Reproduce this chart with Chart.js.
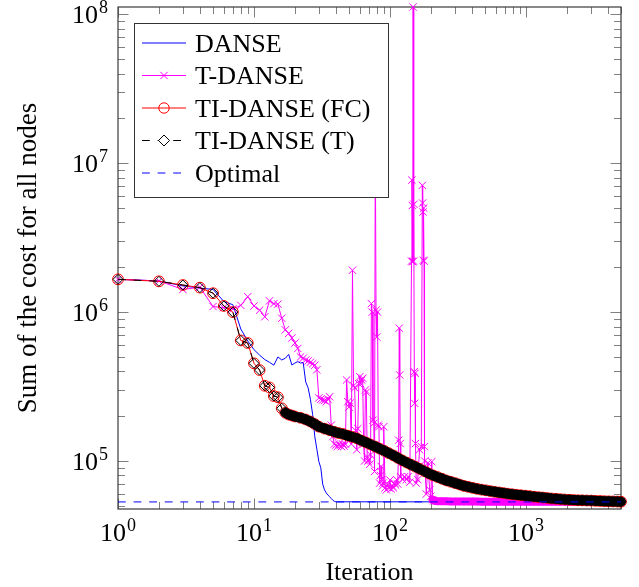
<!DOCTYPE html>
<html>
<head>
<meta charset="utf-8">
<script src="https://cdn.jsdelivr.net/npm/chart.js@4.4.1/dist/chart.umd.min.js"></script>
<style>
  html, body { margin: 0; padding: 0; background: #fff; }
  #wrap { width: 639px; height: 587px; }
</style>
</head>
<body>
<div id="wrap"><canvas id="costChart" width="639" height="587"></canvas></div>
<script>
// ---- data ----
const danseIter = [1, 2, 3, 4, 5, 6, 7, 8, 9, 10, 11, 12, 13, 14, 15, 16, 17, 18, 19, 20,
  21, 22, 23, 24, 25, 26, 27, 28, 29, 30, 31, 32, 33, 34, 35, 36, 37, 38, 39, 40, 5000];
const danseCost = [1.66e6, 1.62e6, 1.50e6, 1.45e6, 1.42e6, 1.18e6, 1.12e6, 7.7e5, 6.4e5, 5.6e5,
  5.14e5, 4.8e5, 4.6e5, 4.4e5, 5.0e5, 4.77e5, 4.9e5, 5.2e5, 4.41e5, 4.55e5,
  4.65e5, 4.55e5, 4.6e5, 3.4e5, 3.1e5, 2.6e5, 2.05e5, 1.46e5, 1.2e5, 9.9e4,
  9.0e4, 7.0e4, 6.4e4, 6.1e4, 5.9e4, 5.76e4, 5.6e4, 5.45e4, 5.36e4, 5.32e4, 5.31e4];

// iterations shared by the converged part of T-DANSE and TI-DANSE
const tailIter = [224, 241, 260, 280, 302, 325, 350, 377, 406, 437,
  471, 507, 546, 588, 633, 682, 735, 792, 853, 919,
  990, 1066, 1148, 1237, 1332, 1435, 1546, 1665, 1793, 1931,
  2080, 2240, 2413, 2599, 2800, 3016, 3248, 3499, 3768, 4059,
  4372, 4709, 5000];

const tdanseHeadIter = [1, 2, 3, 4, 5, 6, 7, 8, 9, 10, 11, 12, 13, 14, 15, 16, 17, 18, 19, 20,
  21, 22, 23, 24, 25, 26, 27, 28, 29, 30, 31, 32, 33, 34, 35, 36, 37, 38, 39, 40,
  41, 42, 43, 44, 45, 46, 47, 48, 49, 50, 51, 52, 53, 54, 55, 56, 57, 58, 59, 60,
  61, 62, 63, 64, 65, 66, 67, 68, 69, 70, 71, 72, 73, 74, 75, 76, 77, 78, 79, 80,
  81, 82, 83, 84, 85, 86, 87, 88, 89, 90, 92, 94, 96, 98, 100, 102, 104, 106, 108, 110,
  112, 114, 116, 117, 118, 119, 120, 124, 128, 132, 136, 140, 144, 145, 146, 147, 148, 149, 150, 151,
  152, 153, 154, 156, 160, 165, 170, 173, 174, 175, 176, 177, 178, 179, 180, 185, 190, 196, 200, 203,
  206, 210];
const tdanseHeadCost = [1.66e6, 1.62e6, 1.42e6, 1.47e6, 1.09e6, 1.07e6, 1.05e6, 1.11e6, 1.27e6, 1.10e6,
  1.03e6, 9.3e5, 1.19e6, 1.14e6, 1.13e6, 9.1e5, 7.6e5, 7.2e5, 6.7e5, 6.2e5,
  5.7e5, 5.0e5, 4.9e5, 4.76e5, 4.7e5, 4.6e5, 4.5e5, 4.4e5, 4.1e5, 2.65e5,
  2.6e5, 2.57e5, 2.55e5, 2.5e5, 2.6e5, 2.7e5, 1.74e5, 1.46e5, 1.3e5, 1.28e5,
  1.25e5, 1.3e5, 1.27e5, 1.25e5, 1.3e5, 1.26e5, 1.3e5, 3.5e5, 2.5e5, 2.3e5,
  2.45e5, 1.3e5, 1.91e6, 3.2e5, 3.1e5, 1.6e5, 1.19e5, 1.65e5, 3.3e5, 3.68e5,
  3.3e5, 3.5e5, 3.6e5, 1.3e5, 1.0e5, 3.0e5, 2.9e5, 1.07e5, 1.0e5, 1.02e5,
  9.5e4, 1.1e5, 1.14e6, 1.0e6, 1.88e5, 1.79e5, 8.5e4, 1.5e7, 1.03e6, 6.8e5,
  1.0e6, 1.74e5, 1.70e5, 7.1e4, 8.0e4, 9.2e4, 7.5e4, 6.8e4, 7.1e4, 1.7e5,
  6.6e4, 6.4e4, 7.0e4, 6.6e4, 7.45e4, 6.5e4, 6.8e4, 6.6e4, 7.1e4, 6.9e4,
  7.5e4, 7.0e4, 1.38e5, 7.8e5, 3.78e5, 1.31e5, 7.85e4, 7.5e4, 7.85e4, 7.5e4,
  7.85e4, 7.2e4, 2.2e6, 7.7e6, 5.2e6, 2.18e6, 1.12e8, 2.2e6, 5.3e6, 3.98e5,
  2.44e5, 3.88e5, 1.31e5, 7.1e4, 7.5e4, 1.19e5, 1.25e5, 7.1e6, 5.4e6, 4.7e6,
  2.23e6, 5.0e6, 2.2e6, 1.25e5, 1.0e5, 6.0e4, 9.7e4, 6.4e4, 5.8e4, 9.9e4,
  5.5e4, 5.4e4];
const tdanseTailCost = [5.37e4, 5.36e4, 5.36e4, 5.35e4, 5.35e4, 5.35e4, 5.34e4, 5.34e4, 5.34e4, 5.34e4,
  5.33e4, 5.33e4, 5.33e4, 5.33e4, 5.33e4, 5.33e4, 5.33e4, 5.33e4, 5.33e4, 5.33e4,
  5.33e4, 5.32e4, 5.32e4, 5.32e4, 5.32e4, 5.32e4, 5.32e4, 5.32e4, 5.32e4, 5.32e4,
  5.32e4, 5.32e4, 5.32e4, 5.32e4, 5.32e4, 5.32e4, 5.32e4, 5.32e4, 5.32e4, 5.32e4,
  5.31e4, 5.31e4, 5.31e4];

const tiHeadIter = [1, 2, 3, 4, 5, 6, 7, 8, 9, 10, 11, 12, 13, 14, 15, 16, 17, 18, 19, 20,
  22, 24, 26, 28, 30, 33, 36, 39, 42, 45, 49, 53, 57, 62, 67, 72, 78, 84, 91, 98,
  106, 114, 123, 133, 143, 154, 166, 179, 193, 208];
const tiHeadCost = [1.66e6, 1.61e6, 1.52e6, 1.46e6, 1.34e6, 1.10e6, 1.00e6, 6.45e5, 6.2e5, 4.53e5,
  4.08e5, 3.2e5, 3.12e5, 2.73e5, 2.68e5, 2.26e5, 2.11e5, 2.05e5, 2.02e5, 1.99e5,
  1.95e5, 1.90e5, 1.84e5, 1.77e5, 1.70e5, 1.65e5, 1.61e5, 1.57e5, 1.54e5, 1.52e5,
  1.48e5, 1.45e5, 1.42e5, 1.37e5, 1.33e5, 1.29e5, 1.25e5, 1.21e5, 1.17e5, 1.13e5,
  1.09e5, 1.05e5, 1.01e5, 9.75e4, 9.45e4, 9.15e4, 8.85e4, 8.55e4, 8.25e4, 8.0e4];
const tiTailCost = [7.8e4, 7.6e4, 7.4e4, 7.25e4, 7.1e4, 6.95e4, 6.8e4, 6.7e4, 6.6e4, 6.5e4,
  6.42e4, 6.35e4, 6.28e4, 6.21e4, 6.15e4, 6.09e4, 6.03e4, 5.98e4, 5.93e4, 5.89e4,
  5.85e4, 5.81e4, 5.76e4, 5.72e4, 5.68e4, 5.64e4, 5.6e4, 5.57e4, 5.54e4, 5.51e4,
  5.49e4, 5.47e4, 5.45e4, 5.44e4, 5.43e4, 5.42e4, 5.4e4, 5.39e4, 5.37e4, 5.36e4,
  5.35e4, 5.34e4, 5.33e4];

const optimalIter = [1, 5000];
const optimalCost = [5.31e4, 5.31e4];

const xMajorTicks = [1, 10, 100, 1000];
const xTickExp = ["0", "1", "2", "3"];
const yMajorTicks = [1e5, 1e6, 1e7, 1e8];
const yTickExp = ["5", "6", "7", "8"];

const seriesNames = ["DANSE", "T-DANSE", "TI-DANSE (FC)", "TI-DANSE (T)", "Optimal"];

// ---- styling ----
const FONT = "'Liberation Serif', 'DejaVu Serif', 'Times New Roman', serif";
const BLUE = "#0000ff";
const MAGENTA = "#ff00ff";
const RED = "#ff0000";
const BLACK = "#000000";
const DASH = [7.8, 7.8];

// where the per-iteration markers overlap so much that they read as a solid band
// (dataset index -> first point of the band)
const denseBands = {
  1: { from: tdanseHeadIter.length - 2, width: 8, color: MAGENTA },
  3: { from: 16, width: 10, color: BLACK }
};

function toPoints(xs, ys) {
  return xs.map((x, i) => ({ x: x, y: ys[i] }));
}

function minorTicks(min, max) {
  const out = [];
  for (let d = Math.floor(Math.log10(min)); d <= Math.ceil(Math.log10(max)); d++) {
    for (let k = 2; k <= 9; k++) {
      const v = k * Math.pow(10, d);
      if (v >= min && v <= max) out.push(v);
    }
  }
  return out;
}

function drawPower(ctx, exp, x, y, align) {
  ctx.font = "26px " + FONT;
  const wBase = ctx.measureText("10").width;
  ctx.font = "18px " + FONT;
  const wExp = ctx.measureText(exp).width;
  const total = wBase + wExp + 1;
  const start = align === "center" ? x - total / 2 : x - total;
  ctx.textAlign = "left";
  ctx.textBaseline = "alphabetic";
  ctx.font = "26px " + FONT;
  ctx.fillText("10", start, y);
  ctx.font = "18px " + FONT;
  ctx.fillText(exp, start + wBase + 1, y - 10);
}

function markCross(ctx, x, y, r) {
  const h = r * Math.SQRT1_2;
  ctx.beginPath();
  ctx.moveTo(x - h, y - h); ctx.lineTo(x + h, y + h);
  ctx.moveTo(x - h, y + h); ctx.lineTo(x + h, y - h);
  ctx.stroke();
}

function markCircle(ctx, x, y, r) {
  ctx.beginPath();
  ctx.arc(x, y, r, 0, Math.PI * 2);
  ctx.stroke();
}

function markDiamond(ctx, x, y, r) {
  ctx.beginPath();
  ctx.moveTo(x, y - r); ctx.lineTo(x + r, y); ctx.lineTo(x, y + r); ctx.lineTo(x - r, y);
  ctx.closePath();
  ctx.fillStyle = "#fff";
  ctx.fill();
  ctx.stroke();
}

function sampleLine(ctx, y, color, dash) {
  ctx.beginPath();
  ctx.strokeStyle = color;
  ctx.lineWidth = 1;
  ctx.setLineDash(dash || []);
  ctx.moveTo(142, y);
  ctx.lineTo(186, y);
  ctx.stroke();
  ctx.setLineDash([]);
}

const bandPlugin = {
  id: "denseBand",
  afterDatasetDraw(chart, args) {
    const spec = denseBands[args.index];
    if (!spec) return;
    const pts = args.meta.data.slice(spec.from);
    const ctx = chart.ctx;
    ctx.save();
    ctx.beginPath();
    pts.forEach((p, i) => (i ? ctx.lineTo(p.x, p.y) : ctx.moveTo(p.x, p.y)));
    ctx.lineWidth = spec.width;
    ctx.lineJoin = "round";
    ctx.lineCap = "round";
    ctx.strokeStyle = spec.color;
    ctx.stroke();
    ctx.restore();
  }
};

// frame + inward ticks under the data, labels and legend on top
const frameTicks = {
  id: "frameTicks",
  beforeDatasetsDraw(chart) {
    const { ctx, chartArea: a, scales: { x, y } } = chart;
    ctx.save();
    ctx.lineWidth = 1;
    ctx.strokeStyle = "#808080";
    ctx.beginPath();
    const xTicks = xMajorTicks.map(v => [v, 10.5]).concat(minorTicks(x.min, x.max).map(v => [v, 7]));
    xTicks.forEach(([v, len]) => {
      const px = Math.round(x.getPixelForValue(v)) + 0.5;
      ctx.moveTo(px, a.bottom); ctx.lineTo(px, a.bottom - len);
      ctx.moveTo(px, a.top); ctx.lineTo(px, a.top + len);
    });
    const yTicks = yMajorTicks.map(v => [v, 10.5]).concat(minorTicks(y.min, y.max).map(v => [v, 7]));
    yTicks.forEach(([v, len]) => {
      const py = Math.round(y.getPixelForValue(v)) + 0.5;
      ctx.moveTo(a.left, py); ctx.lineTo(a.left + len, py);
      ctx.moveTo(a.right, py); ctx.lineTo(a.right - len, py);
    });
    ctx.stroke();
    ctx.strokeStyle = "#3a3a3a";
    ctx.lineWidth = 1.2;
    ctx.strokeRect(a.left, a.top, a.right - a.left, a.bottom - a.top);
    ctx.restore();
  },
  afterDraw(chart) {
    const { ctx, chartArea: a, scales: { x, y } } = chart;
    ctx.save();
    ctx.fillStyle = BLACK;
    xMajorTicks.forEach((v, i) => drawPower(ctx, xTickExp[i], x.getPixelForValue(v), 541, "center"));
    yMajorTicks.forEach((v, i) => drawPower(ctx, yTickExp[i], 108, y.getPixelForValue(v) + 9, "right"));

    ctx.font = "26px " + FONT;
    ctx.textAlign = "center";
    ctx.textBaseline = "alphabetic";
    ctx.fillText("Iteration", (a.left + a.right) / 2, 580);
    ctx.save();
    ctx.font = "27px " + FONT;
    ctx.translate(36, (a.top + a.bottom) / 2);
    ctx.rotate(-Math.PI / 2);
    ctx.fillText("Sum of the cost for all nodes", 0, 0);
    ctx.restore();

    // legend
    ctx.fillStyle = "#fff";
    ctx.fillRect(134, 23, 254, 174);
    ctx.strokeStyle = "#333";
    ctx.lineWidth = 1;
    ctx.strokeRect(134.5, 23.5, 254, 174);

    const rows = [43, 75.5, 108, 140.5, 173];
    sampleLine(ctx, rows[0], BLUE);
    sampleLine(ctx, rows[1], MAGENTA);
    ctx.strokeStyle = MAGENTA; markCross(ctx, 164, rows[1], 5.2);
    sampleLine(ctx, rows[2], RED);
    ctx.strokeStyle = RED; markCircle(ctx, 164, rows[2], 5.2);
    sampleLine(ctx, rows[3], BLACK, DASH);
    ctx.strokeStyle = BLACK; markDiamond(ctx, 164, rows[3], 5.5);
    sampleLine(ctx, rows[4], BLUE, DASH);

    ctx.fillStyle = BLACK;
    ctx.font = "26px " + FONT;
    ctx.textAlign = "left";
    seriesNames.forEach((name, i) => ctx.fillText(name, 195, rows[i] + 8.5));
    ctx.restore();
  }
};

const tiIter = tiHeadIter.concat(tailIter);
const tiCost = tiHeadCost.concat(tiTailCost);
const tdanseIter = tdanseHeadIter.concat(tailIter);
const tdanseCost = tdanseHeadCost.concat(tdanseTailCost);

new Chart(document.getElementById("costChart"), {
  type: "line",
  data: {
    datasets: [
      {
        label: seriesNames[0],
        data: toPoints(danseIter, danseCost),
        borderColor: BLUE,
        borderWidth: 1,
        pointRadius: 0,
        order: 5
      },
      {
        label: seriesNames[1],
        data: toPoints(tdanseIter, tdanseCost),
        borderColor: MAGENTA,
        borderWidth: 1,
        pointStyle: "crossRot",
        pointRadius: 5.2,
        pointBorderColor: MAGENTA,
        pointBorderWidth: 1,
        order: 4
      },
      {
        label: seriesNames[2],
        data: toPoints(tiIter, tiCost),
        borderColor: RED,
        borderWidth: 1,
        pointStyle: "circle",
        pointRadius: 5.4,
        pointBorderColor: RED,
        pointBackgroundColor: "rgba(0,0,0,0)",
        pointBorderWidth: 1,
        order: 3
      },
      {
        label: seriesNames[3],
        data: toPoints(tiIter, tiCost),
        borderColor: BLACK,
        borderWidth: 1,
        borderDash: DASH,
        pointStyle: "rectRot",
        pointRadius: 5,
        pointBorderColor: BLACK,
        pointBackgroundColor: "rgba(0,0,0,0)",
        pointBorderWidth: 1,
        order: 2
      },
      {
        label: seriesNames[4],
        data: toPoints(optimalIter, optimalCost),
        borderColor: BLUE,
        borderWidth: 1,
        borderDash: DASH,
        pointRadius: 0,
        order: 1
      }
    ]
  },
  options: {
    responsive: false,
    devicePixelRatio: 1,
    animation: false,
    events: [],
    clip: false,
    layout: { padding: { left: 118, right: 18, top: 7, bottom: 78 } },
    plugins: {
      legend: { display: false },
      tooltip: { enabled: false }
    },
    scales: {
      x: { type: "logarithmic", min: 1, max: 5000, display: false },
      y: { type: "logarithmic", min: 4.76e4, max: 1.12e8, display: false }
    }
  },
  plugins: [frameTicks, bandPlugin]
});
</script>
</body>
</html>
